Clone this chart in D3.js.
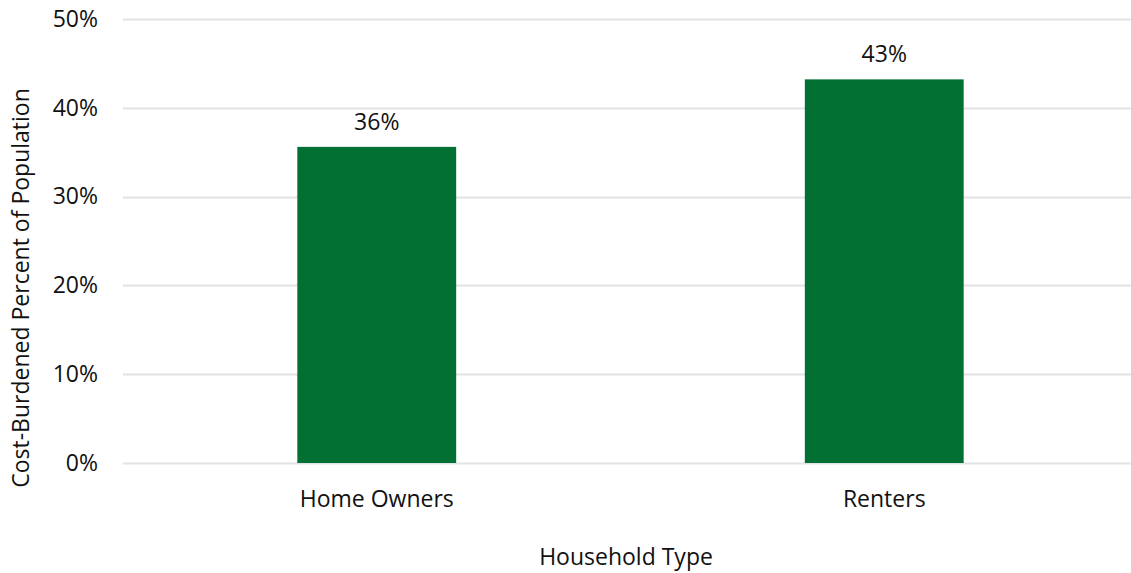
<!DOCTYPE html>
<html>
<head>
<meta charset="utf-8">
<script src="https://cdn.jsdelivr.net/npm/d3@7"></script>
<style>
  html, body { margin: 0; padding: 0; background: #fff; }
  svg { display: block; font-family: "Open Sans", "Noto Sans", sans-serif; }
</style>
</head>
<body>
<svg id="chart" width="1131" height="573"></svg>
<script>
// Share of cost-burdened households by tenure
const categories = ["Home Owners", "Renters"];
const values = [0.356, 0.432];
const yTicks = [0, 0.1, 0.2, 0.3, 0.4, 0.5];
const yTitle = "Cost-Burdened Percent of Population";
const xTitle = "Household Type";

const svg = d3.select("#chart");
const margin = { left: 123, top: 19, plotRight: 1138, bottom: 463 };
const barColor = "#037033";
const gridColor = "#e0e3e3";
const textColor = "#111";
const fontSize = 23;
const fontFamily = "\"Open Sans\", \"Noto Sans\", sans-serif";

const x = d3.scaleBand()
  .domain(categories)
  .range([margin.left, margin.plotRight])
  .paddingInner(0.687)
  .paddingOuter(0.3435);

const y = d3.scaleLinear()
  .domain([0, 0.5])
  .range([margin.bottom, margin.top]);

const pct = d3.format(".0%");

// Horizontal gridlines
svg.append("g")
  .selectAll("line")
  .data(yTicks)
  .join("line")
  .attr("x1", margin.left)
  .attr("x2", margin.plotRight)
  .attr("y1", d => Math.round(y(d)) + 0.5)
  .attr("y2", d => Math.round(y(d)) + 0.5)
  .attr("stroke", gridColor)
  .attr("stroke-width", 2);

// Y axis tick labels
const yAxis = d3.axisLeft(y).tickValues(yTicks).tickFormat(pct).tickSize(0).tickPadding(0);
const yAxisG = svg.append("g")
  .attr("transform", `translate(98,0)`)
  .call(yAxis);
yAxisG.select(".domain").remove();
yAxisG.selectAll("text")
  .attr("font-family", fontFamily)
  .attr("font-size", fontSize)
  .attr("fill", textColor);

// Bars
svg.append("g")
  .selectAll("rect")
  .data(categories)
  .join("rect")
  .attr("x", d => x(d))
  .attr("width", x.bandwidth())
  .attr("y", (d, i) => y(values[i]))
  .attr("height", (d, i) => y(0) - y(values[i]))
  .attr("fill", barColor);

// Value labels above bars
svg.append("g")
  .selectAll("text")
  .data(categories)
  .join("text")
  .attr("x", d => x(d) + x.bandwidth() / 2)
  .attr("y", (d, i) => y(values[i]) - 26)
  .attr("text-anchor", "middle")
  .attr("dominant-baseline", "central")
  .attr("font-size", fontSize)
  .attr("fill", textColor)
  .text((d, i) => pct(values[i]));

// X axis category labels
const xAxis = d3.axisBottom(x).tickSize(0).tickPadding(0);
const xAxisG = svg.append("g")
  .attr("transform", `translate(0,${margin.bottom})`)
  .call(xAxis);
xAxisG.select(".domain").remove();
xAxisG.selectAll("text")
  .attr("font-family", fontFamily)
  .attr("font-size", fontSize)
  .attr("fill", textColor)
  .attr("dy", null)
  .attr("y", 35)
  .attr("dominant-baseline", "central");

// Axis titles
svg.append("text")
  .attr("x", 626)
  .attr("y", 556)
  .attr("text-anchor", "middle")
  .attr("dominant-baseline", "central")
  .attr("font-size", fontSize)
  .attr("fill", textColor)
  .text(xTitle);

svg.append("text")
  .attr("transform", "translate(20,288) rotate(-90)")
  .attr("text-anchor", "middle")
  .attr("dominant-baseline", "central")
  .attr("font-size", fontSize)
  .attr("fill", textColor)
  .text(yTitle);
</script>
</body>
</html>
